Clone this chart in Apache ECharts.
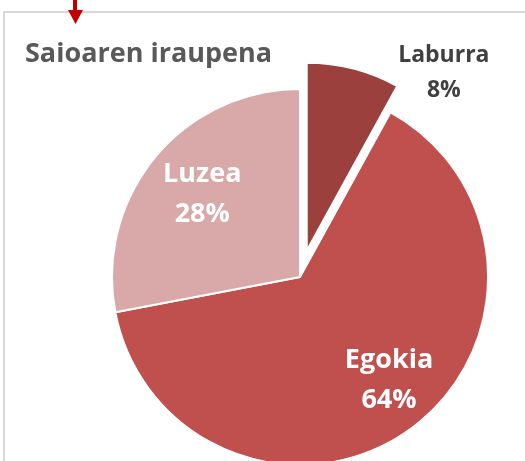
<!DOCTYPE html>
<html>
<head>
<meta charset="utf-8">
<script src="https://cdn.jsdelivr.net/npm/echarts@6/dist/echarts.min.js"></script>
<style>
  html, body { margin: 0; padding: 0; background: #fff; }
  #chart { width: 525px; height: 461px; }
</style>
</head>
<body>
<div id="chart"></div>
<script>
// iraupena
var categories = ["Laburra", "Egokia", "Luzea"];
var values = [8, 64, 28];
var colors = ["#9C403E", "#C0504D", "#D9A8A8"];
var labelColors = ["#404040", "#ffffff", "#ffffff"];
var labelSizes = [23, 27, 27];
var labelOffsets = [[113, -84], [32, 25], [-23, -21]];

var myChart = echarts.init(document.getElementById("chart"));

var data = categories.map(function (name, i) {
  var lbl = {
    color: labelColors[i],
    fontSize: labelSizes[i],
    lineHeight: i === 0 ? 35 : 40,
    offset: labelOffsets[i],
  };
  return {
    name: name,
    value: values[i],
    selected: i === 0,
    itemStyle: { color: colors[i] },
    label: lbl,
    select: { label: lbl, itemStyle: { color: colors[i] } },
  };
});

var option = {
  animation: false,
  title: {
    text: "Saioaren iraupena",
    left: 20,
    top: 36,
    textStyle: {
      fontFamily: "Open Sans",
      fontWeight: "bold",
      fontSize: 27,
      color: "#595959",
    },
  },
  graphic: [
    {
      type: "polyline",
      shape: { points: [[4, 470], [4, 12], [530, 12]] },
      style: { stroke: "#D9D9D9", lineWidth: 2, fill: null },
    },
    {
      type: "rect",
      shape: { x: 73, y: 0, width: 4, height: 11 },
      style: { fill: "#C00000" },
    },
    {
      type: "polygon",
      shape: { points: [[68, 10], [83, 10], [75.5, 24]] },
      style: { fill: "#C00000" },
    },
  ],
  series: [
    {
      type: "pie",
      center: [300, 277],
      radius: 188,
      startAngle: 90,
      clockwise: true,
      selectedMode: "single",
      selectedOffset: 27,
      emphasis: { disabled: true },
      itemStyle: { borderColor: "#ffffff", borderWidth: 2 },
      label: {
        show: true,
        position: "inside",
        formatter: "{b}\n{d}%",
        fontFamily: "Open Sans",
        fontWeight: "bold",
      },
      labelLine: { show: false },
      data: data,
    },
  ],
};

option && myChart.setOption(option);
</script>
</body>
</html>
